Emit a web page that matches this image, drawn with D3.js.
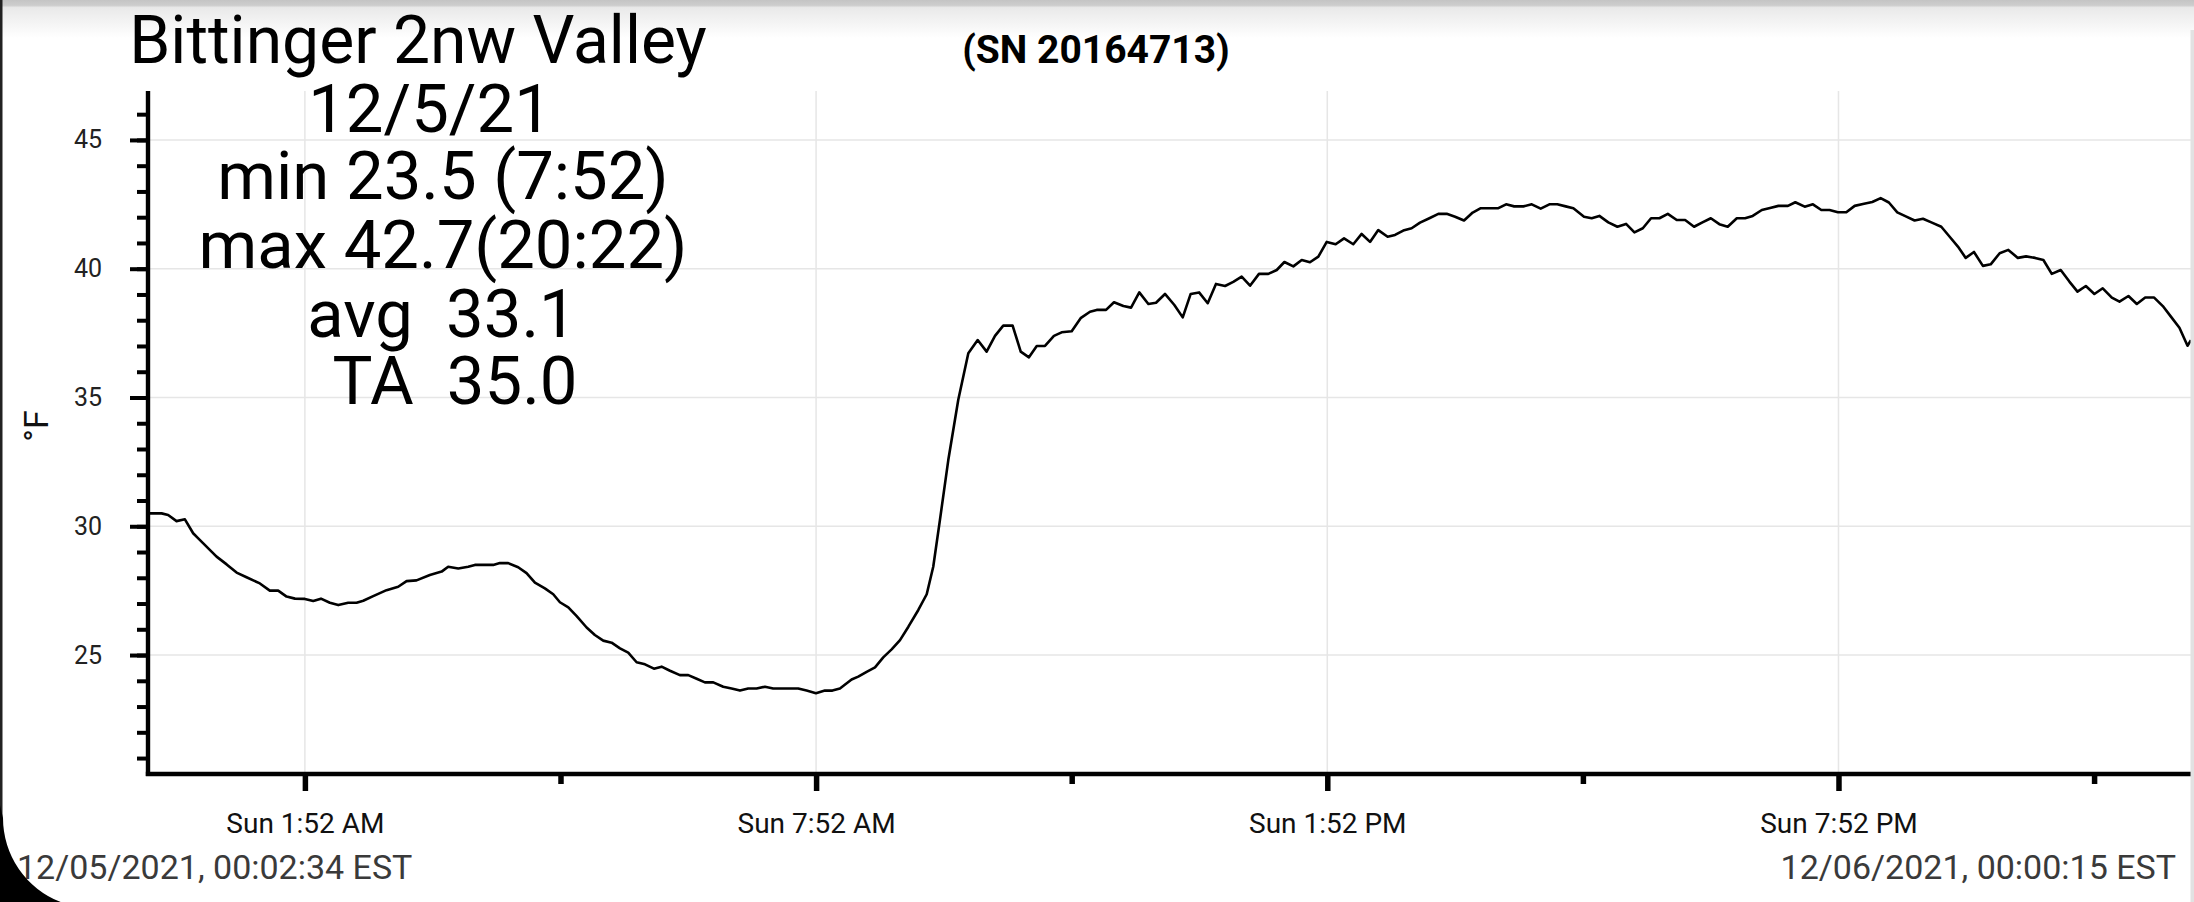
<!DOCTYPE html>
<html>
<head>
<meta charset="utf-8">
<script src="https://cdn.jsdelivr.net/npm/d3@7"></script>
<style>
  html, body { margin: 0; padding: 0; background: #fff; }
  svg { display: block; font-family: Roboto, "Noto Sans", sans-serif; }
</style>
</head>
<body>
<script>
// logger samples: minutes after midnight 12/05/2021, temperature in F
var sampleMinutes = [
  1.6, 11.1, 15.7, 21.6, 27.5, 33.3, 36.9, 49.8, 56.9, 63.9, 70.9, 80.3, 87.3, 93.2, 99.1, 105, 112, 117.9,
  123.3, 129.6, 135.5, 142.5, 148.4, 153.1, 160.1, 169.5, 177.7, 183.6, 190.6, 200, 208.3, 212.9, 220, 227,
  231.7, 244.6, 249.3, 255.2, 262.2, 268.1, 274, 281, 286.9, 291.6, 297.5, 303.4, 310.4, 316.2, 322.1, 328,
  333.9, 339.7, 345.6, 351.5, 357.8, 363.2, 369.1, 376.1, 382, 387.9, 393.7, 399.6, 406.6, 412.5, 418.4, 424.2,
  430.1, 436, 441.8, 447.7, 453.5, 459.4, 465.3, 471.9, 478.2, 483.5, 488.8, 497, 501.7, 507.6, 513.5, 519.3,
  525.2, 531.1, 537, 544, 549.9, 554.5, 559.2, 565.1, 572.1, 579.2, 585.8, 592.1, 598, 603.8, 610.4, 616.1,
  621.9, 627.4, 633.2, 639.5, 644.9, 652, 658.3, 664.9, 669.6, 676.2, 681.8, 688.4, 693.8, 699.6, 706, 711.4,
  717.7, 724.3, 730.2, 735.8, 741.7, 747.8, 753.6, 760, 765.8, 771.7, 777.6, 783.9, 790.5, 796.4, 801.8, 808.1,
  814, 819.8, 825.7, 831.6, 837.9, 843.8, 850.3, 856.2, 862.1, 867.9, 874.5, 879.7, 885.5, 891.4, 897.3, 903.9,
  910.2, 916.1, 922, 928.3, 934.4, 940.1, 946.6, 952.5, 957.9, 963.6, 970.1, 976, 982.3, 988.4, 994, 999.9,
  1005.3, 1012.8, 1018.2, 1023.6, 1029.9, 1036.3, 1042.4, 1048.3, 1054.2, 1060, 1065.9, 1071.8, 1078.1, 1084,
  1090.3, 1096.2, 1102.1, 1108.1, 1114, 1120.4, 1126.2, 1131.6, 1138, 1143.8, 1149.7, 1156.4, 1161.6, 1168.2,
  1174, 1179.9, 1185.7, 1191.6, 1197.5, 1203.4, 1209.2, 1215.8, 1221.7, 1227.5, 1233.4, 1239.8, 1245.6, 1251.5,
  1257.8, 1264.4, 1270.3, 1276.1, 1281.6, 1287.4, 1293.7, 1299.2, 1305.5, 1311.6, 1318.3, 1324.1, 1330.5,
  1336.3, 1342.2, 1348.5, 1354.6, 1360.3, 1366.2, 1372.2, 1378.1, 1384.5, 1389.9, 1396.2, 1402.1, 1408, 1414.3,
  1420.4, 1426.1, 1432.1, 1437.8, 1440.2
];
var tempF = [
  30.50, 30.50, 30.44, 30.20, 30.27, 29.73, 29.53, 28.82, 28.52, 28.20, 28.02, 27.78, 27.50, 27.50, 27.27, 27.19, 27.18, 27.10,
  27.19, 27.03, 26.94, 27.03, 27.03, 27.11, 27.29, 27.52, 27.65, 27.87, 27.90, 28.11, 28.24, 28.43, 28.36, 28.43,
  28.50, 28.50, 28.57, 28.57, 28.41, 28.18, 27.81, 27.59, 27.36, 27.05, 26.85, 26.51, 26.07, 25.78, 25.56, 25.48,
  25.26, 25.09, 24.72, 24.64, 24.47, 24.55, 24.39, 24.22, 24.22, 24.08, 23.94, 23.94, 23.77, 23.70, 23.62, 23.70,
  23.70, 23.77, 23.70, 23.70, 23.70, 23.70, 23.62, 23.52, 23.62, 23.62, 23.70, 24.05, 24.16, 24.35, 24.52, 24.91,
  25.22, 25.58, 26.10, 26.75, 27.36, 28.43, 30.24, 32.57, 34.90, 36.72, 37.23, 36.78, 37.39, 37.79, 37.79, 36.78,
  36.56, 37.00, 37.00, 37.39, 37.53, 37.57, 38.08, 38.33, 38.40, 38.40, 38.70, 38.55, 38.49, 39.08, 38.63, 38.68,
  39.02, 38.59, 38.11, 39.02, 39.08, 38.66, 39.41, 39.33, 39.49, 39.69, 39.34, 39.80, 39.80, 39.95, 40.26, 40.09,
  40.34, 40.25, 40.47, 41.04, 40.95, 41.18, 40.95, 41.35, 41.04, 41.50, 41.24, 41.31, 41.48, 41.57, 41.79, 41.96,
  42.13, 42.13, 42.02, 41.87, 42.18, 42.35, 42.35, 42.35, 42.50, 42.42, 42.42, 42.50, 42.33, 42.50, 42.50, 42.42,
  42.35, 42.02, 41.96, 42.05, 41.80, 41.63, 41.74, 41.41, 41.57, 41.96, 41.96, 42.13, 41.89, 41.89,
  41.63, 41.80, 41.96, 41.73, 41.63, 41.96, 41.96, 42.05, 42.28, 42.36, 42.44, 42.44, 42.58, 42.41,
  42.50, 42.28, 42.28, 42.19, 42.19, 42.44, 42.51, 42.59, 42.74, 42.57, 42.19, 42.02, 41.87, 41.94,
  41.79, 41.63, 41.24, 40.86, 40.42, 40.65, 40.11, 40.17, 40.60, 40.73, 40.42, 40.48, 40.42,
  40.34, 39.80, 39.95, 39.50, 39.11, 39.33, 39.02, 39.24, 38.88, 38.72, 38.94, 38.63, 38.88, 38.88,
  38.55, 38.14, 37.71, 37.01, 37.23
];
var yMajorTicks = [25, 30, 35, 40, 45];
var yMinorTicks = d3.range(21, 47);
var xMajorTickTimes = ["01:52", "07:52", "13:52", "19:52"];
var xMinorTickTimes = ["04:52", "10:52", "16:52", "22:52"];
var titleLines = ["Bittinger 2nw Valley", "12/5/21", "min 23.5 (7:52)", "max 42.7(20:22)", "avg\u00a0\u00a033.1", "TA\u00a0\u00a035.0"];
var serialText = "(SN 20164713)";
var startText = "12/05/2021, 00:02:34 EST";
var endText = "12/06/2021, 00:00:15 EST";

var width = 2194, height = 902;
var day = new Date(2021, 11, 5, 0, 0, 0);
var tStart = new Date(2021, 11, 5, 0, 2, 34),
    tEnd = new Date(2021, 11, 6, 0, 0, 15);
function atMinutes(m) { return new Date(day.getTime() + m * 60000); }
function atClock(s) { var p = s.split(":"); return new Date(2021, 11, 5, +p[0], +p[1]); }

var data = sampleMinutes.map(function(m, i) { return { t: atMinutes(m), v: tempF[i] }; });

var plotL = 149.5, plotR = 2191, plotT = 91, plotB = 774;
var x = d3.scaleTime().domain([tStart, tEnd]).range([plotL, plotR]);
var y = d3.scaleLinear().domain([20.42, 46.9]).range([773, plotT]);

var svg = d3.select("body").append("svg")
    .attr("width", width).attr("height", height);

var defs = svg.append("defs");
var grad = defs.append("linearGradient").attr("id", "topShade")
    .attr("x1", 0).attr("y1", 0).attr("x2", 0).attr("y2", 1);
grad.append("stop").attr("offset", "0%").attr("stop-color", "#c4c4c4");
grad.append("stop").attr("offset", "14%").attr("stop-color", "#cdcdcd");
grad.append("stop").attr("offset", "20%").attr("stop-color", "#e9e9e9");
grad.append("stop").attr("offset", "100%").attr("stop-color", "#ffffff");

svg.append("rect").attr("width", width).attr("height", height).attr("fill", "#fff");
// top shade of the screen, behind everything else
svg.append("rect").attr("x", 0).attr("y", 0).attr("width", width).attr("height", 38)
    .attr("fill", "url(#topShade)");

// grid
var grid = svg.append("g").attr("stroke", "#e6e6e6").attr("stroke-width", 1.5);
grid.selectAll(".hg").data(yMajorTicks).enter().append("line")
    .attr("x1", plotL).attr("x2", plotR)
    .attr("y1", function(d) { return y(d); }).attr("y2", function(d) { return y(d); });
grid.selectAll(".vg").data(xMajorTickTimes).enter().append("line")
    .attr("x1", function(d) { return x(atClock(d)); }).attr("x2", function(d) { return x(atClock(d)); })
    .attr("y1", plotT).attr("y2", plotB);

// temperature line
var line = d3.line().x(function(d) { return x(d.t); }).y(function(d) { return y(d.v); });
svg.append("path").datum(data)
    .attr("d", line)
    .attr("fill", "none")
    .attr("stroke", "#000")
    .attr("stroke-width", 2.6)
    .attr("stroke-linejoin", "round");

// y axis
var axX = 148;
var yAxisMinor = d3.axisLeft(y).tickValues(yMinorTicks).tickSize(11).tickFormat("");
var yAxisMajor = d3.axisLeft(y).tickValues(yMajorTicks).tickSize(18).tickPadding(28).tickFormat(d3.format("d"));
var gyMinor = svg.append("g").attr("transform", "translate(" + axX + ",0)").call(yAxisMinor);
var gy = svg.append("g").attr("transform", "translate(" + axX + ",0)").call(yAxisMajor);
[gyMinor, gy].forEach(function(g) {
  g.select(".domain").remove();
  g.selectAll(".tick line").attr("stroke", "#000").attr("stroke-width", 4);
});
gy.selectAll(".tick text").attr("font-size", 25).attr("fill", "#222").attr("font-family", "Roboto");
svg.append("line").attr("x1", axX).attr("x2", axX)
    .attr("y1", plotT).attr("y2", plotB + 2)
    .attr("stroke", "#000").attr("stroke-width", 4.4);

// x axis
var xAxisMinor = d3.axisBottom(x).tickValues(xMinorTickTimes.map(atClock)).tickSize(10).tickFormat("");
var xAxisMajor = d3.axisBottom(x).tickValues(xMajorTickTimes.map(atClock)).tickSize(17)
    .tickPadding(22).tickFormat(d3.timeFormat("%a %-I:%M %p"));
var gxMinor = svg.append("g").attr("transform", "translate(0," + plotB + ")").call(xAxisMinor);
var gx = svg.append("g").attr("transform", "translate(0," + plotB + ")").call(xAxisMajor);
[gxMinor, gx].forEach(function(g) {
  g.select(".domain").remove();
  g.selectAll(".tick line").attr("stroke", "#000").attr("stroke-width", 5.5);
});
gx.selectAll(".tick text").attr("font-size", 28).attr("fill", "#111").attr("font-family", "Roboto");
svg.append("line").attr("x1", axX - 2.2).attr("x2", plotR)
    .attr("y1", plotB).attr("y2", plotB)
    .attr("stroke", "#000").attr("stroke-width", 4.6);

// y label
svg.append("text")
    .attr("transform", "translate(48,426) rotate(-90)")
    .attr("text-anchor", "middle")
    .attr("font-size", 34).attr("fill", "#111")
    .text("\u00b0F");

// title block
var titleCx = [418, 430, 443, 443, 442, 455];
var titleBase = [63, 132, 199, 268, 337, 404];
var titleSize = [66, 67, 67, 67, 67, 67];
svg.selectAll(".title").data(titleLines).enter().append("text")
    .attr("x", function(d, i) { return titleCx[i]; })
    .attr("y", function(d, i) { return titleBase[i]; })
    .attr("text-anchor", "middle")
    .attr("font-size", function(d, i) { return titleSize[i]; })
    .attr("fill", "#000")
    .text(function(d) { return d; });

svg.append("text").attr("x", 1096).attr("y", 63)
    .attr("text-anchor", "middle").attr("font-size", 39).attr("font-weight", "bold")
    .attr("fill", "#000").text(serialText);

svg.append("text").attr("x", 17).attr("y", 879)
    .attr("font-size", 34).attr("fill", "#3a3a3a").text(startText);
svg.append("text").attr("x", 2176).attr("y", 879).attr("text-anchor", "end")
    .attr("font-size", 34).attr("fill", "#3a3a3a").text(endText);

// screen frame: edges and rounded corner
svg.append("rect").attr("x", 0).attr("y", 0).attr("width", 2.5).attr("height", height).attr("fill", "#222");
svg.append("rect").attr("x", width - 3.5).attr("y", 30).attr("width", 3.5).attr("height", height - 30).attr("fill", "#e2e2e2");
svg.append("path")
    .attr("d", "M0,805 L3,818 A90,90 0 0,0 60.7,902 L0,902 Z")
    .attr("fill", "#000");
</script>
</body>
</html>
